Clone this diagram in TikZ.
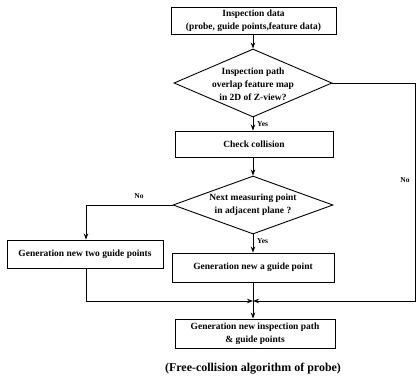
\documentclass[tikz,border=0pt]{standalone}
\usepackage{fontspec}
\setmainfont{Liberation Serif}
\usetikzlibrary{shapes.geometric,arrows.meta}

\tikzset{
  flow/.style={line width=0.8bp},
  arr/.style={flow,-{Stealth[length=6bp,width=4.5bp]}},
  boxtext/.style={font=\fontsize{9.5}{13}\selectfont\bfseries,align=center},
  stepbox/.style={draw,line width=0.9bp,inner sep=0pt,boxtext},
  decision/.style={draw,diamond,line width=0.9bp,inner sep=0pt},
  lbl/.style={font=\fontsize{7.5}{8}\selectfont\bfseries,inner sep=1bp}
}

\begin{document}
\begin{tikzpicture}[x=1bp,y=-1bp]
  \useasboundingbox (0,0) rectangle (417,381);

  % process boxes
  \node[stepbox,minimum width=165bp,minimum height=27bp] (input) at (253.5,20.5)
    {Inspection data\\(probe, guide points,feature data)};
  \node[stepbox,minimum width=158bp,minimum height=26bp] (check) at (254,144)
    {Check collision};
  \node[stepbox,minimum width=156bp,minimum height=28bp] (two) at (85,254)
    {Generation new two guide points};
  \node[stepbox,minimum width=162bp,minimum height=29bp] (one) at (253,267.5)
    {Generation new a guide point};
  \node[stepbox,minimum width=160bp,minimum height=29bp] (result) at (255,333.5)
    {Generation new inspection path\\\& guide points};

  % decisions: fixed outline, text set on top
  \node[decision,minimum width=158bp,minimum height=68bp] (overlap) at (253,83) {};
  \node[boxtext,inner sep=0pt] (overlap-text) at (253,84)
    {Inspection path\\overlap feature map\\in 2D of Z-view?};
  \node[decision,minimum width=160bp,minimum height=58bp] (adjacent) at (253,205) {};
  \node[boxtext,inner sep=0pt] (adjacent-text) at (253,205)
    {Next measuring point\\in adjacent plane ?};

  \node[font=\fontsize{12}{14}\selectfont\bfseries] (caption) at (253,369)
    {(Free-collision algorithm of probe)};

  % routing points
  \coordinate (join) at (253,301);
  \coordinate (rtop) at (415.5,83);
  \coordinate (rbot) at (415.5,301);
  \coordinate (lturn) at (86,205);
  \coordinate (lbot) at (86,301);

  % connectors
  \draw[arr] (input.south -| join) -- (overlap.north);
  \draw[arr] (overlap.south) -- (check.north -| overlap.south);
  \draw[arr] (check.south -| adjacent.north) -- (adjacent.north);
  \draw[arr] (adjacent.west) -- (lturn) -- (two.north -| lturn);
  \draw[arr] (adjacent.south) -- (one.north -| adjacent.south);
  \draw[arr] (overlap.east) -- (rtop) -- (rbot) -- (join);
  \draw[arr] (two.south -| lbot) -- (lbot) -- (join);
  \draw[arr] (one.south -| join) -- (result.north -| join);

  % branch labels
  \node[lbl,anchor=west] (yes1) at (256,124) {Yes};
  \node[lbl,anchor=west] (yes2) at (256,241) {Yes};
  \node[lbl] (no1) at (139,196) {No};
  \node[lbl] (no2) at (405,180) {No};
\end{tikzpicture}
\end{document}
